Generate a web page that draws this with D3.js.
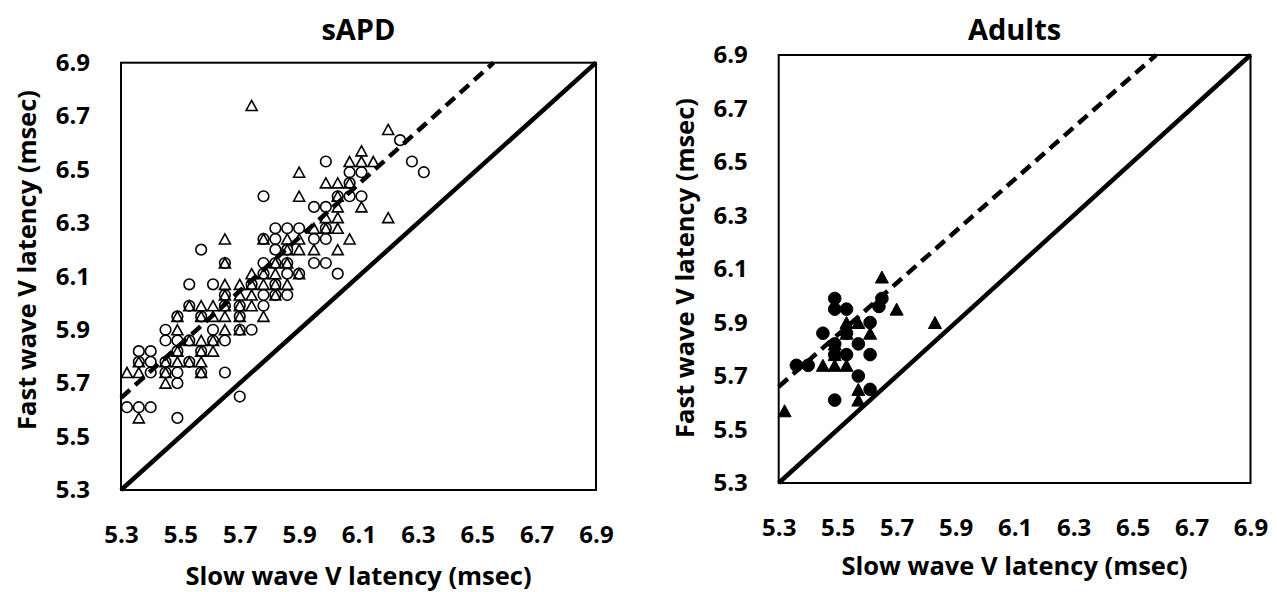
<!DOCTYPE html>
<html>
<head>
<meta charset="utf-8">
<script src="https://cdn.jsdelivr.net/npm/d3@7"></script>
<style>
  body { margin: 0; background: #fff; }
  svg text { font-family: "Open Sans", Lato, sans-serif; font-weight: bold; fill: #000; }
</style>
</head>
<body>
<div id="chart"></div>
<script>
// tick values shared by both axes of both panels
const ticks = [5.3, 5.5, 5.7, 5.9, 6.1, 6.3, 6.5, 6.7, 6.9];

// sAPD group, open circles [slow, fast]
const sapdCircles = [
  [5.49,5.57],
  [5.32,5.61],[5.36,5.61],[5.40,5.61],
  [5.70,5.65],
  [5.49,5.70],
  [5.40,5.74],[5.45,5.74],[5.49,5.74],[5.57,5.74],[5.65,5.74],
  [5.36,5.78],[5.40,5.78],[5.45,5.78],[5.53,5.78],
  [5.36,5.82],[5.40,5.82],[5.49,5.82],[5.57,5.82],
  [5.45,5.86],[5.49,5.86],[5.53,5.86],[5.61,5.86],[5.65,5.86],
  [5.45,5.90],[5.61,5.90],[5.70,5.90],[5.74,5.90],
  [5.49,5.95],[5.57,5.95],[5.70,5.95],
  [5.53,5.99],[5.65,5.99],[5.70,5.99],[5.78,5.99],
  [5.65,6.03],[5.78,6.03],[5.82,6.03],[5.86,6.03],
  [5.53,6.07],[5.61,6.07],[5.74,6.07],[5.82,6.07],
  [5.78,6.11],[5.86,6.11],[5.90,6.11],[6.03,6.11],
  [5.65,6.15],[5.78,6.15],[5.82,6.15],[5.86,6.15],[5.95,6.15],[5.99,6.15],
  [5.57,6.20],[5.82,6.20],[5.86,6.20],
  [5.78,6.24],[5.82,6.24],[5.95,6.24],[5.99,6.24],
  [5.82,6.28],[5.86,6.28],[5.90,6.28],[5.99,6.28],
  [5.95,6.36],[5.99,6.36],
  [5.78,6.40],[6.03,6.40],[6.07,6.40],[6.11,6.40],
  [6.07,6.45],
  [6.07,6.49],[6.11,6.49],[6.32,6.49],
  [5.99,6.53],[6.28,6.53],
  [6.24,6.61]
];

// sAPD group, open triangles
const sapdTriangles = [
  [5.36,5.57],
  [5.45,5.70],
  [5.32,5.74],[5.36,5.74],[5.45,5.74],[5.57,5.74],
  [5.36,5.78],[5.45,5.78],[5.49,5.78],[5.53,5.78],[5.57,5.78],
  [5.49,5.82],[5.57,5.82],[5.61,5.82],
  [5.53,5.86],[5.57,5.86],[5.61,5.86],
  [5.49,5.90],[5.65,5.90],[5.70,5.90],
  [5.49,5.95],[5.57,5.95],[5.61,5.95],[5.65,5.95],[5.70,5.95],[5.78,5.95],
  [5.53,5.99],[5.57,5.99],[5.61,5.99],[5.65,5.99],[5.70,5.99],[5.74,5.99],
  [5.65,6.03],[5.70,6.03],[5.74,6.03],[5.82,6.03],
  [5.65,6.07],[5.70,6.07],[5.74,6.07],[5.78,6.07],[5.82,6.07],[5.86,6.07],
  [5.74,6.11],[5.78,6.11],[5.82,6.11],[5.90,6.11],
  [5.65,6.15],[5.82,6.15],[5.86,6.15],
  [5.86,6.20],[5.90,6.20],[5.95,6.20],[6.03,6.20],
  [5.65,6.24],[5.78,6.24],[5.86,6.24],[5.90,6.24],[6.07,6.24],
  [5.95,6.28],[5.99,6.28],[6.03,6.28],
  [5.99,6.32],[6.03,6.32],[6.20,6.32],
  [6.03,6.36],[6.11,6.36],
  [5.90,6.40],[6.03,6.40],
  [5.99,6.45],[6.03,6.45],[6.07,6.45],
  [5.90,6.49],
  [6.07,6.53],[6.11,6.53],[6.15,6.53],
  [6.11,6.57],
  [6.20,6.65],
  [5.74,6.74]
];

// Adults group, filled circles
const adultCircles = [
  [5.36,5.74],[5.40,5.74],[5.45,5.86],[5.49,5.99],[5.49,5.95],[5.49,5.78],
  [5.49,5.61],[5.53,5.95],[5.53,5.78],[5.57,5.82],[5.57,5.70],[5.61,5.90],
  [5.61,5.78],[5.61,5.65],[5.65,5.99],[5.64,5.96],[5.53,5.86],[5.49,5.82]
];

// Adults group, filled triangles
const adultTriangles = [
  [5.32,5.57],[5.45,5.74],[5.49,5.74],[5.49,5.82],[5.53,5.74],[5.53,5.86],
  [5.53,5.90],[5.57,5.90],[5.57,5.65],[5.57,5.61],[5.61,5.86],[5.65,6.07],
  [5.70,5.95],[5.83,5.90],[5.49,5.78]
];

// reference lines: identity and dashed offset line (start, end)
const identityLine = [[5.3, 5.3], [6.9, 6.9]];
const sapdDashLine = [[5.3, 5.645], [6.555, 6.9]];
const adultDashLine = [[5.3, 5.66], [6.58, 6.9]];

const width = 1277, height = 592;

const svg = d3.select("#chart")
  .append("svg")
  .attr("width", width)
  .attr("height", height);

const trianglePath = (w, h) => `M0,${-h / 2}L${w / 2},${h / 2}L${-w / 2},${h / 2}Z`;

const drawPanel = (cfg) => {
  const x = d3.scaleLinear().domain([5.3, 6.9]).range([cfg.left, cfg.right]);
  const y = d3.scaleLinear().domain([5.3, 6.9]).range([cfg.bottom, cfg.top]);

  const g = svg.append("g");

  // x axis labels
  g.append("g")
    .attr("transform", `translate(0, ${cfg.bottom})`)
    .call(d3.axisBottom(x).tickValues(ticks).tickSize(0).tickPadding(36).tickFormat(d3.format(".1f")))
    .call(a => a.select(".domain").remove())
    .selectAll("text").style("font-size", "24px").style("font-family", null);

  // y axis labels
  g.append("g")
    .attr("transform", `translate(${cfg.left}, 0)`)
    .call(d3.axisLeft(y).tickValues(ticks).tickSize(0).tickPadding(31).tickFormat(d3.format(".1f")))
    .call(a => a.select(".domain").remove())
    .selectAll("text").style("font-size", "24px").style("font-family", null);

  // plot frame
  g.append("rect")
    .attr("x", cfg.left)
    .attr("y", cfg.top)
    .attr("width", cfg.right - cfg.left)
    .attr("height", cfg.bottom - cfg.top)
    .attr("fill", "none")
    .attr("stroke", "#000")
    .attr("stroke-width", 2);

  const line = d3.line().x(d => x(d[0])).y(d => y(d[1]));

  // identity line
  g.append("path")
    .attr("d", line(identityLine))
    .attr("stroke", "#000")
    .attr("stroke-width", 4.5)
    .attr("fill", "none");

  // dashed line
  g.append("path")
    .attr("d", line(cfg.dash))
    .attr("stroke", "#000")
    .attr("stroke-width", 4.5)
    .attr("stroke-dasharray", "12,7")
    .attr("fill", "none");

  // markers
  g.selectAll(".tri")
    .data(cfg.triangles)
    .join("path")
    .attr("class", "tri")
    .attr("transform", d => `translate(${x(d[0])},${y(d[1])})`)
    .attr("d", trianglePath(cfg.triW, cfg.triH))
    .attr("fill", cfg.filled ? "#000" : "none")
    .attr("stroke", "#000")
    .attr("stroke-width", cfg.filled ? 1 : 1.6);

  g.selectAll(".dot")
    .data(cfg.circles)
    .join("circle")
    .attr("class", "dot")
    .attr("cx", d => x(d[0]))
    .attr("cy", d => y(d[1]))
    .attr("r", cfg.r)
    .attr("fill", cfg.filled ? "#000" : "none")
    .attr("stroke", "#000")
    .attr("stroke-width", cfg.filled ? 1 : 1.6);

  // title
  svg.append("text")
    .text(cfg.title)
    .attr("x", (cfg.left + cfg.right) / 2)
    .attr("y", 40)
    .attr("text-anchor", "middle")
    .style("font-size", "29px");

  // x-axis title
  svg.append("text")
    .text("Slow wave V latency (msec)")
    .attr("x", (cfg.left + cfg.right) / 2)
    .attr("y", cfg.xTitleY)
    .attr("text-anchor", "middle")
    .style("font-size", "25.5px");

  // y-axis title
  svg.append("text")
    .text("Fast wave V latency (msec)")
    .attr("transform", `translate(${cfg.yTitleX}, ${cfg.yTitleMid}) rotate(-90)`)
    .attr("text-anchor", "middle")
    .style("font-size", "25.5px");
};

drawPanel({
  title: "sAPD", left: 121, right: 596, top: 62.7, bottom: 490,
  circles: sapdCircles, triangles: sapdTriangles, dash: sapdDashLine,
  filled: false, r: 5.3, triW: 11, triH: 10,
  xTitleY: 585, yTitleX: 36, yTitleMid: 260
});

drawPanel({
  title: "Adults", left: 778.7, right: 1250.5, top: 55, bottom: 483,
  circles: adultCircles, triangles: adultTriangles, dash: adultDashLine,
  filled: true, r: 6.3, triW: 13, triH: 12,
  xTitleY: 575, yTitleX: 694, yTitleMid: 268
});
</script>
</body>
</html>
